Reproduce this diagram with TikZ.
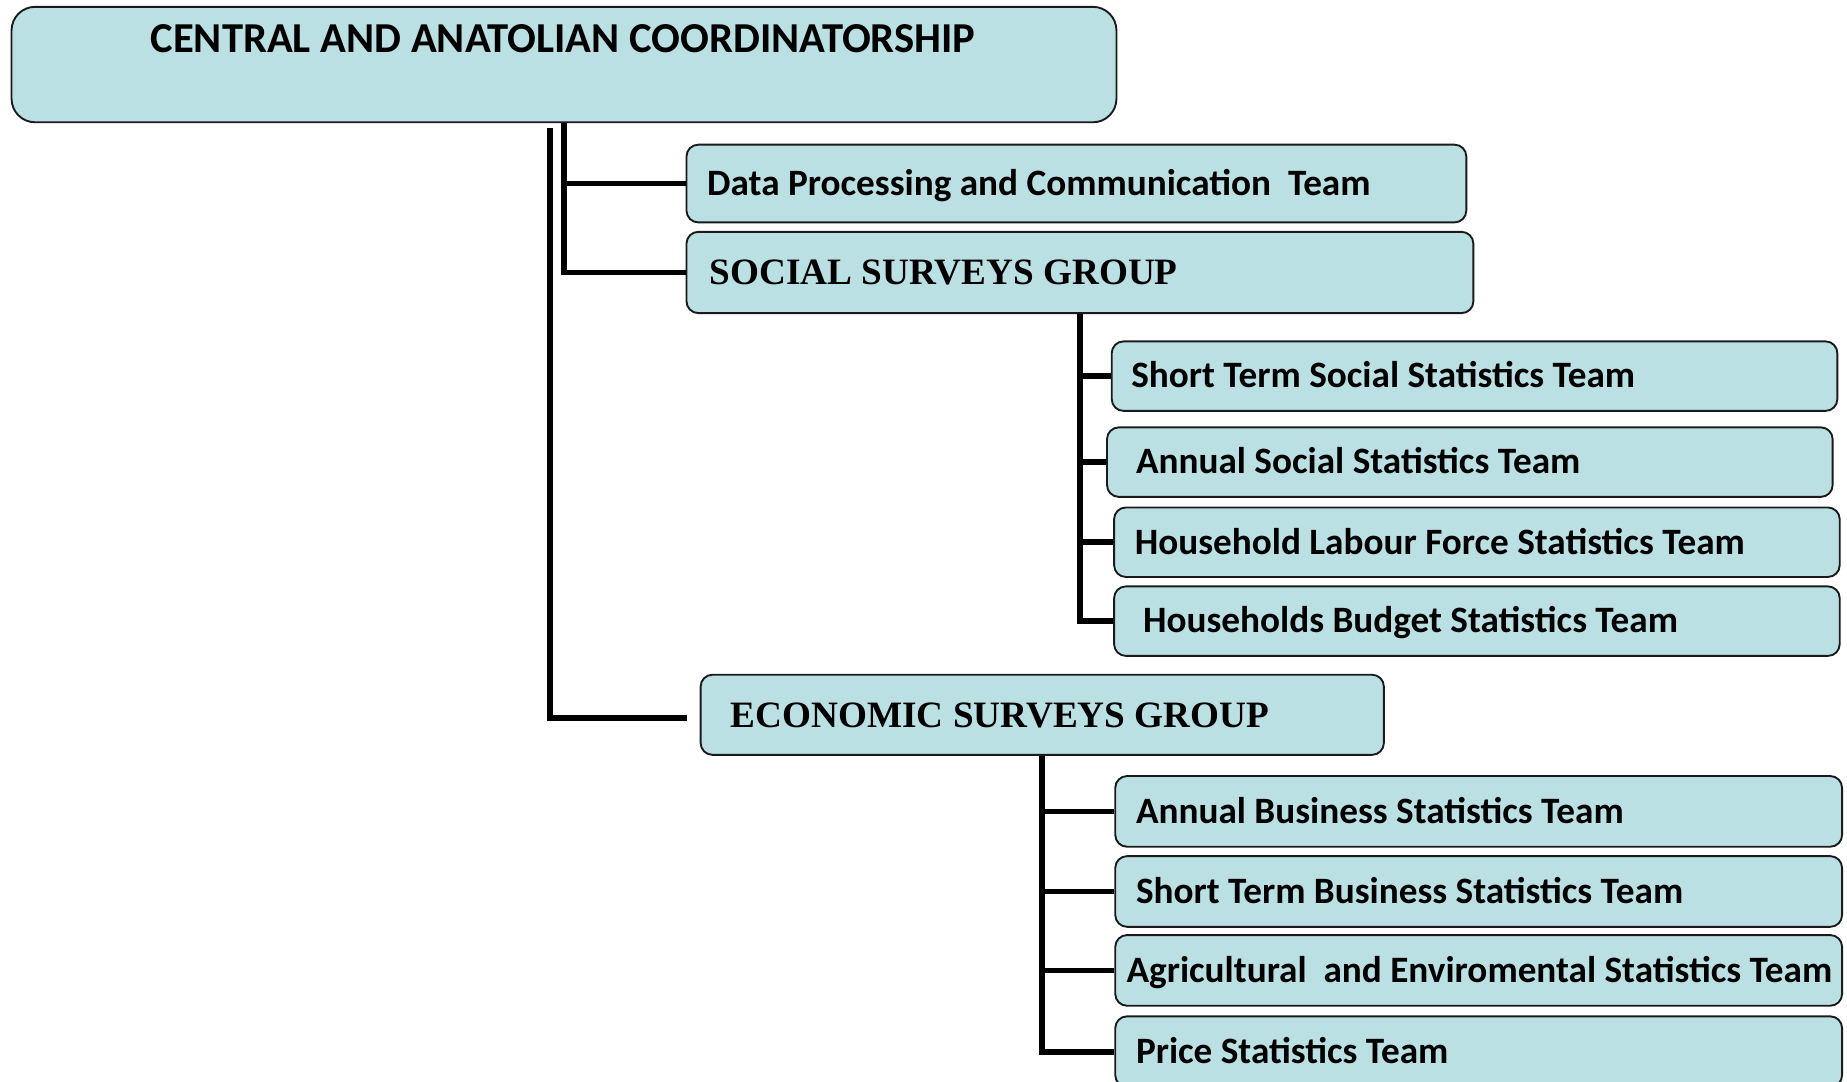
\documentclass[tikz,border=0pt]{standalone}
\usepackage{fontspec}
\setmainfont{Carlito}
\newfontfamily\serifb{Liberation Serif}
\usetikzlibrary{calc}
\definecolor{boxfill}{HTML}{BAE0E3}
\definecolor{boxline}{HTML}{1A1A1A}
\begin{document}
\begin{tikzpicture}[x=0.5pt,y=-0.5pt,
  box/.style={draw=boxline, line width=0.8pt, fill=boxfill, rounded corners=5pt, anchor=north west, inner sep=0pt},
  lbl/.style={anchor=west, inner sep=0pt, text height=10pt, text depth=0pt, font=\fontsize{15.8}{18}\selectfont\bfseries},
  glbl/.style={anchor=west, inner sep=0pt, text height=10.5pt, text depth=0pt, font=\serifb\fontsize{15.8}{18}\selectfont\bfseries},
  conn/.style={draw=black, line width=2.4pt}]
\clip (0,0) rectangle (1568,918);
% boxes
\node[box, rounded corners=10pt, minimum width=469pt, minimum height=49pt] (top) at (9,5) {};
\node[font=\fontsize{18.1}{20}\selectfont\bfseries, inner sep=0pt, text height=11.4pt, text depth=0pt] (topT) at (478,33) {CENTRAL AND ANATOLIAN COORDINATORSHIP};
\node[box, minimum width=331pt, minimum height=33pt] (dp) at (582,122) {};
\node[lbl] (dpT) at ([xshift=9pt]dp.west) {Data Processing and Communication\ \ Team};
\node[box, minimum width=334pt, minimum height=34.5pt] (ss) at (582,196) {};
\node[glbl] (ssT) at ([xshift=10pt]ss.west) {SOCIAL SURVEYS GROUP};
\node[box, minimum width=308pt, minimum height=29.5pt] (t1) at (943,289) {};
\node[lbl] (t1T) at ([xshift=8.5pt]t1.west) {Short Term Social Statistics Team};
\node[box, minimum width=308pt, minimum height=29.5pt] (t2) at (939,362) {};
\node[lbl] (t2T) at ([xshift=12.5pt]t2.west) {Annual Social Statistics Team};
\node[box, minimum width=308pt, minimum height=29.5pt] (t3) at (945,430) {};
\node[lbl] (t3T) at ([xshift=9pt]t3.west) {Household Labour Force Statistics Team};
\node[box, minimum width=308pt, minimum height=29.5pt] (t4) at (945,497) {};
\node[lbl] (t4T) at ([xshift=12.5pt]t4.west) {Households Budget Statistics Team};
\node[box, minimum width=290pt, minimum height=34pt] (es) at (594,572) {};
\node[glbl] (esT) at ([xshift=13pt]es.west) {ECONOMIC SURVEYS GROUP};
\node[box, minimum width=308.5pt, minimum height=30pt] (b1) at (946,658) {};
\node[lbl] (b1T) at ([xshift=9pt]b1.west) {Annual Business Statistics Team};
\node[box, minimum width=308.5pt, minimum height=30pt] (b2) at (946,726) {};
\node[lbl] (b2T) at ([xshift=9pt]b2.west) {Short Term Business Statistics Team};
\node[box, minimum width=308.5pt, minimum height=30pt] (b3) at (946,793) {};
\node[lbl] (b3T) at ([xshift=5pt]b3.west) {Agricultural\ \ and Enviromental Statistics Team};
\node[box, minimum width=308.5pt, minimum height=30pt] (b4) at (946,862) {};
\node[lbl] (b4T) at ([xshift=9pt]b4.west) {Price Statistics Team};
% connectors
\coordinate (left) at ([xshift=-6pt,yshift=-2pt]top.south);
\coordinate (esin) at ([xshift=-5.5pt,yshift=-1.5pt]es.west);
\draw[conn] (top.south) |- (dp.west);
\draw[conn] (top.south) |- (ss.west);
\draw[conn] (left) |- (esin);
\draw[conn] (ss.south) |- (t1.west);
\draw[conn] (ss.south) |- (t2.west);
\draw[conn] (ss.south) |- (t3.west);
\draw[conn] (ss.south) |- (t4.west);
\draw[conn] (es.south) |- (b1.west);
\draw[conn] (es.south) |- (b2.west);
\draw[conn] (es.south) |- (b3.west);
\draw[conn] (es.south) |- (b4.west);
\end{tikzpicture}
\end{document}
